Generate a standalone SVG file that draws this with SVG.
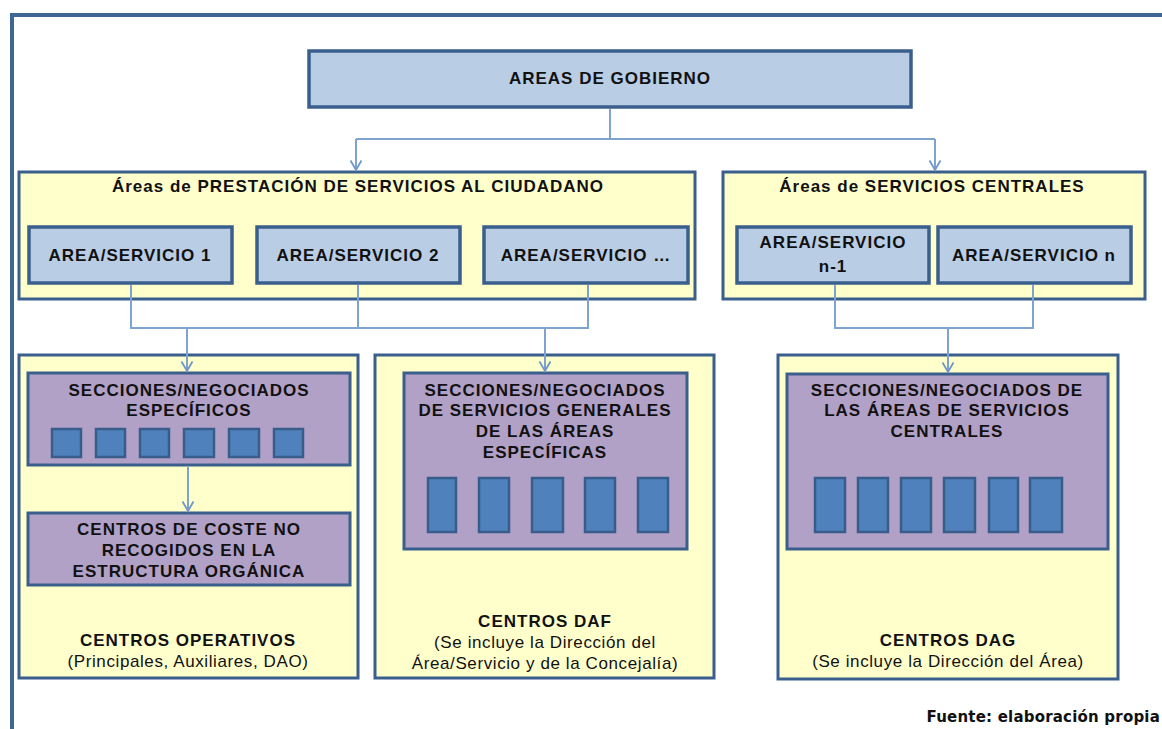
<svg xmlns="http://www.w3.org/2000/svg" width="1162" height="729" viewBox="0 0 1162 729">
<defs>
<marker id="arr" markerWidth="12" markerHeight="14" refX="10.5" refY="7" orient="auto" markerUnits="userSpaceOnUse" viewBox="0 0 12 14">
<path d="M1,1.5 L10.5,7 L1,12.5" fill="none" stroke="#6f97c9" stroke-width="1.8"/>
</marker>
<style>
.frame{fill:none;stroke:#3f6593;stroke-width:4}
.blue{fill:#b9cde5;stroke:#3a5f8c;stroke-width:3.5}
.yel{fill:#ffffcc;stroke:#3a5f8c;stroke-width:3}
.pur{fill:#b2a1c7;stroke:#3a5f8c;stroke-width:3}
.sq{fill:#4f81bd;stroke:#385d8a;stroke-width:2.5}
.con{fill:none;stroke:#7ea3d0;stroke-width:2}
text{font-family:"Liberation Sans",Arial,sans-serif;fill:#111;text-anchor:middle}
.b{font-weight:bold;font-size:17px;letter-spacing:1px}
.r{font-size:17px;letter-spacing:0.6px}
.src{font-family:"DejaVu Sans",Verdana,sans-serif;font-weight:bold;font-size:15px;letter-spacing:0.2px;text-anchor:end}
</style>
</defs>
<rect x="0" y="0" width="1162" height="729" fill="#ffffff"/>
<path class="frame" d="M12,729 L12,15 L1162,15"/>

<g id="areas-gobierno">
<rect class="blue" x="309" y="51" width="602" height="56"/>
<text class="b" x="610" y="84">AREAS DE GOBIERNO</text>
</g>

<g id="areas-prestacion">
<rect class="yel" x="19" y="172" width="676" height="127"/>
<text class="b" x="358" y="192">Áreas de PRESTACIÓN DE SERVICIOS AL CIUDADANO</text>
</g>
<g id="area-servicio-1">
<rect class="blue" x="29" y="227" width="203" height="56"/>
<text class="b" x="130" y="261">AREA/SERVICIO 1</text>
</g>
<g id="area-servicio-2">
<rect class="blue" x="257" y="227" width="203" height="56"/>
<text class="b" x="358" y="261">AREA/SERVICIO 2</text>
</g>
<g id="area-servicio-dots">
<rect class="blue" x="484" y="227" width="204" height="56"/>
<text class="b" x="586" y="261">AREA/SERVICIO …</text>
</g>

<g id="areas-centrales">
<rect class="yel" x="723" y="172" width="422" height="127"/>
<text class="b" x="932" y="192">Áreas de SERVICIOS CENTRALES</text>
</g>
<g id="area-servicio-n1">
<rect class="blue" x="737" y="227" width="192" height="56"/>
<text class="b" x="833" y="248">AREA/SERVICIO</text>
<text class="b" x="833" y="272">n-1</text>
</g>
<g id="area-servicio-n">
<rect class="blue" x="938" y="227" width="193" height="56"/>
<text class="b" x="1034" y="261">AREA/SERVICIO n</text>
</g>

<g id="centros-operativos">
<rect class="yel" x="19" y="355" width="339" height="323"/>
<text class="b" x="188" y="646">CENTROS OPERATIVOS</text>
<text class="r" x="188" y="667">(Principales, Auxiliares, DAO)</text>
</g>
<g id="secciones-especificos">
<rect class="pur" x="28" y="373" width="322" height="92"/>
<text class="b" x="189" y="396">SECCIONES/NEGOCIADOS</text>
<text class="b" x="189" y="416">ESPECÍFICOS</text>
<rect class="sq" x="52" y="429" width="29" height="28"/>
<rect class="sq" x="96" y="429" width="29" height="28"/>
<rect class="sq" x="140" y="429" width="29" height="28"/>
<rect class="sq" x="184" y="429" width="30" height="28"/>
<rect class="sq" x="229" y="429" width="30" height="28"/>
<rect class="sq" x="274" y="429" width="29" height="28"/>
</g>
<g id="centros-coste">
<rect class="pur" x="28" y="513" width="322" height="72"/>
<text class="b" x="189" y="535">CENTROS DE COSTE NO</text>
<text class="b" x="189" y="556">RECOGIDOS EN LA</text>
<text class="b" x="189" y="577">ESTRUCTURA ORGÁNICA</text>
</g>

<g id="centros-daf">
<rect class="yel" x="375" y="355" width="339" height="323"/>
<text class="b" x="545" y="627">CENTROS DAF</text>
<text class="r" x="545" y="648">(Se incluye la Dirección del</text>
<text class="r" x="545" y="669">Área/Servicio y de la Concejalía)</text>
</g>
<g id="secciones-generales">
<rect class="pur" x="404" y="373" width="283" height="176"/>
<text class="b" x="545" y="396">SECCIONES/NEGOCIADOS</text>
<text class="b" x="545" y="416">DE SERVICIOS GENERALES</text>
<text class="b" x="545" y="437">DE LAS ÁREAS</text>
<text class="b" x="545" y="458">ESPECÍFICAS</text>
<rect class="sq" x="428" y="478" width="28" height="54"/>
<rect class="sq" x="479" y="478" width="30" height="54"/>
<rect class="sq" x="532" y="478" width="31" height="54"/>
<rect class="sq" x="585" y="478" width="30" height="54"/>
<rect class="sq" x="638" y="478" width="30" height="54"/>
</g>

<g id="centros-dag">
<rect class="yel" x="778" y="355" width="340" height="324"/>
<text class="b" x="948" y="646">CENTROS DAG</text>
<text class="r" x="948" y="667">(Se incluye la Dirección del Área)</text>
</g>
<g id="secciones-centrales">
<rect class="pur" x="787" y="374" width="321" height="175"/>
<text class="b" x="947" y="396">SECCIONES/NEGOCIADOS DE</text>
<text class="b" x="947" y="416">LAS ÁREAS DE SERVICIOS</text>
<text class="b" x="947" y="437">CENTRALES</text>
<rect class="sq" x="815" y="478" width="30" height="54"/>
<rect class="sq" x="858" y="478" width="30" height="54"/>
<rect class="sq" x="901" y="478" width="30" height="54"/>
<rect class="sq" x="944" y="478" width="31" height="54"/>
<rect class="sq" x="989" y="478" width="29" height="54"/>
<rect class="sq" x="1030" y="478" width="32" height="54"/>
</g>

<g id="connectors">
<path class="con" d="M610,109 L610,139"/>
<path class="con" d="M356,139 L935,139"/>
<path class="con" d="M356,139 L356,170" marker-end="url(#arr)"/>
<path class="con" d="M935,139 L935,170" marker-end="url(#arr)"/>
<path class="con" d="M131,285 L131,328 L588,328 L588,285"/>
<path class="con" d="M358,285 L358,328"/>
<path class="con" d="M187,328 L187,371" marker-end="url(#arr)"/>
<path class="con" d="M545,328 L545,371" marker-end="url(#arr)"/>
<path class="con" d="M835,285 L835,328 L1033,328 L1033,285"/>
<path class="con" d="M948,328 L948,372" marker-end="url(#arr)"/>
<path class="con" d="M188,467 L188,511" marker-end="url(#arr)"/>
</g>

<text class="src" x="1160" y="722">Fuente: elaboración propia</text>
</svg>
